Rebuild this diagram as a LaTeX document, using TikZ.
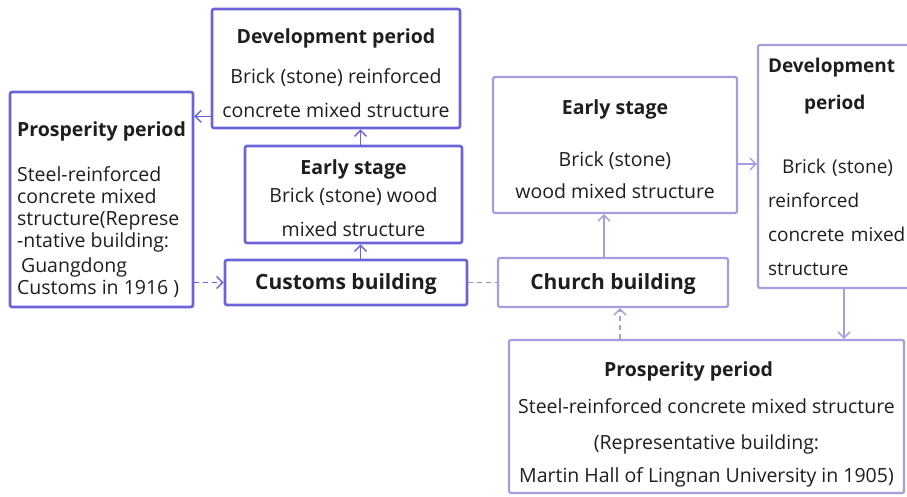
\documentclass[tikz,border=0pt]{standalone}
\usepackage{fontspec}
\setmainfont{Open Sans}
\usepackage{xcolor}
\definecolor{cbviolet}{RGB}{108,98,218}
\definecolor{cblilac}{RGB}{164,158,224}
\definecolor{cbgray}{RGB}{152,148,204}
\definecolor{cbtext}{RGB}{30,30,30}
\usetikzlibrary{arrows.meta}

\begin{document}
\begin{tikzpicture}[x=1pt, y=-1pt,
  custbox/.style={draw=cbviolet, line width=2.6pt, rounded corners=2pt, inner sep=0pt,
                  text=cbtext, font=\fontsize{19.5}{23}\selectfont},
  churchbox/.style={draw=cblilac, line width=2.2pt, rounded corners=2pt, inner sep=0pt,
                  text=cbtext, font=\fontsize{19.5}{23}\selectfont},
  custarr/.style={cbviolet, line width=1.4pt, -{Straight Barb[length=6pt, width=12pt]}},
  churcharr/.style={cblilac, line width=1.4pt, -{Straight Barb[length=6pt, width=12pt]}},
  dashline/.style={dash pattern=on 5pt off 4pt}]

\useasboundingbox (0,0) rectangle (907,496);

% --- Customs building branch (left) ---
\node[custbox, minimum width=248pt, minimum height=119pt, align=center] (devL) at (336,68.5)
     {\rule{0pt}{24pt}\textbf{Development period}\\[17pt]
      Brick (stone) reinforced\\[11pt]
      concrete mixed structure};
\node[custbox, minimum width=183pt, minimum height=215pt, align=left] (prosL) at (101.5,199.5)
     {\rule{0pt}{36pt}\textbf{Prosperity period}\\[22pt]
      Steel-reinforced\\[-1pt]
      concrete mixed\\[-1pt]
      structure(Represe\\[-1pt]
      -ntative building:\\[2pt]
      \hspace*{4pt}Guangdong\\[-1pt]
      Customs in 1916 )};
\node[custbox, minimum width=217pt, minimum height=97pt, align=center] (earlyL) at (353.5,194.5)
     {\rule{0pt}{22pt}\textbf{Early stage}\\[5pt]
      Brick (stone) wood\\[11pt]
      mixed structure};
\node[custbox, minimum width=242pt, minimum height=45pt, font=\fontsize{21}{24}\selectfont\bfseries]
     (customs) at (346,282.5) {\rule{0pt}{20pt}Customs building};

% --- Church building branch (right) ---
\node[churchbox, minimum width=244pt, minimum height=136pt, align=center] (earlyR) at (615,145)
     {\rule{0pt}{24pt}\textbf{Early stage}\\[29pt]
      Brick (stone)\\[9pt]
      wood mixed structure};
\node[churchbox, minimum width=172pt, minimum height=243pt, text width=152pt, align=left,
      font=\fontsize{19}{23}\selectfont]
     (devR) at (844,166.5)
     {\textbf{Development}\\[14pt]
      \hspace*{36pt}\textbf{period}\\[41pt]
      \hspace*{14pt}Brick (stone)\\[11pt]
      reinforced\\[11pt]
      concrete mixed\\[11pt]
      structure};
\node[churchbox, minimum width=230pt, minimum height=49pt, font=\fontsize{21}{24}\selectfont\bfseries]
     (church) at (613,282.5) {\rule{0pt}{20pt}Church building};
\node[churchbox, minimum width=395pt, minimum height=153pt, align=center] (prosR) at (706.5,416.5)
     {\rule{0pt}{31pt}\textbf{Prosperity period}\hspace*{36pt}\\[14pt]
      Steel-reinforced concrete mixed structure\\[13pt]
      (Representative building:\hspace*{48pt}\\[10pt]
      Martin Hall of Lingnan University in 1905)};

% --- Connectors, left ---
\coordinate (upL) at ([xshift=7pt]earlyL.south);
\draw[custarr] (upL |- customs.north) -- (upL);
\coordinate (topL) at ([xshift=7pt]earlyL.north);
\draw[custarr] (topL) -- (topL |- devL.south);
\coordinate (linkL) at ([yshift=13pt]devL.south west);
\draw[custarr] (linkL) -- (linkL -| prosL.east);
\draw[custarr, dashline] (customs.west -| prosL.east) -- (customs.west);

% link between the two buildings
\draw[cbgray, line width=1.4pt, dashline] (customs.east) -- (church.west);

% --- Connectors, right ---
\coordinate (upR) at ([xshift=-9pt]church.north);
\draw[churcharr] (upR) -- (upR |- earlyR.south);
\coordinate (linkR) at ([yshift=-19pt]earlyR.east);
\draw[churcharr] (linkR) -- (linkR -| devR.west);
\draw[churcharr] (devR.south) -- (devR.south |- prosR.north);
\coordinate (dnR) at ([xshift=7pt]church.south);
\draw[churcharr, dashline] (dnR |- prosR.north) -- (dnR);

\end{tikzpicture}
\end{document}
